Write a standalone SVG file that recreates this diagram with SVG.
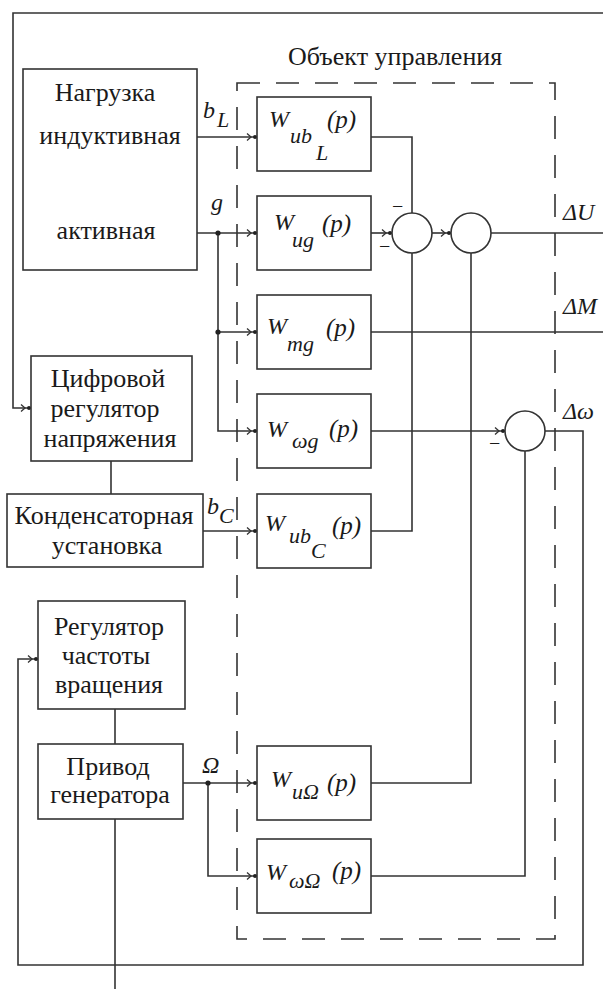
<svg xmlns="http://www.w3.org/2000/svg" width="603" height="989" viewBox="0 0 603 989">
<defs>
<style>
.ln{fill:none;stroke:#333;stroke-width:1.6}
.bx{fill:#fff;stroke:#333;stroke-width:1.6}
.dash{fill:none;stroke:#333;stroke-width:1.6;stroke-dasharray:23 16}
.t{font-family:'Liberation Serif','Times New Roman','DejaVu Serif',serif;font-size:26px;fill:#1a1a1a;text-anchor:middle}
.tt{font-family:'Liberation Serif','Times New Roman','DejaVu Serif',serif;font-size:26px;fill:#1a1a1a}
.w{font-family:'Liberation Serif','Times New Roman','DejaVu Serif',serif;font-style:italic;font-size:24px;fill:#1a1a1a}
.p{font-family:'Liberation Serif','Times New Roman','DejaVu Serif',serif;font-style:italic;font-size:25px;fill:#1a1a1a}
.s{font-family:'Liberation Serif','Times New Roman','DejaVu Serif',serif;font-style:italic;font-size:22px;fill:#1a1a1a}
.m{font-family:'Liberation Serif','Times New Roman','DejaVu Serif',serif;font-size:20px;fill:#1a1a1a}
.dot{fill:#222}
</style>
<marker id="arr" markerUnits="userSpaceOnUse" markerWidth="14" markerHeight="10" refX="12" refY="5" orient="auto" overflow="visible">
<path d="M2,1.5 L6,5 L2,8.5" fill="none" stroke="#333" stroke-width="1.3"/>
<circle cx="10" cy="5" r="2" fill="#222"/>
</marker>
</defs>
<rect width="603" height="989" fill="#fff"/>

<g id="plant">
<rect class="dash" x="237" y="83" width="318" height="856"/>
<text class="tt" x="288" y="65">Объект управления</text>
</g>

<g id="connectors">
<path class="ln" d="M603,13 H13 V408 H31" marker-end="url(#arr)"/>
<path class="ln" d="M197,137 H257" marker-end="url(#arr)"/>
<path class="ln" d="M197,233 H257" marker-end="url(#arr)"/>
<path class="ln" d="M218,233 V332 H257" marker-end="url(#arr)"/>
<path class="ln" d="M218,332 V431 H257" marker-end="url(#arr)"/>
<circle class="dot" cx="218" cy="233" r="2.6"/>
<circle class="dot" cx="218" cy="332" r="2.6"/>
<path class="ln" d="M203,531 H257" marker-end="url(#arr)"/>
<path class="ln" d="M111,461 V494"/>
<path class="ln" d="M115,709 V744"/>
<path class="ln" d="M183,783 H257" marker-end="url(#arr)"/>
<path class="ln" d="M208,783 V876 H257" marker-end="url(#arr)"/>
<circle class="dot" cx="208" cy="783" r="2.6"/>
<path class="ln" d="M371,137 H412 V213"/>
<path class="ln" d="M371,531 H412 V253"/>
<path class="ln" d="M371,233 H392" marker-end="url(#arr)"/>
<path class="ln" d="M432,233 H451" marker-end="url(#arr)"/>
<path class="ln" d="M491,233 H603"/>
<path class="ln" d="M371,783 H471 V253"/>
<path class="ln" d="M371,332 H603"/>
<path class="ln" d="M371,431 H505" marker-end="url(#arr)"/>
<path class="ln" d="M371,876 H525 V451"/>
<path class="ln" d="M545,431 H583 V965 H18 V659 H38" marker-end="url(#arr)"/>
<path class="ln" d="M115,819 V989"/>
<text class="w" x="203" y="118">b</text>
<text class="s" x="217" y="127">L</text>
<text class="w" x="211" y="210">g</text>
<text class="w" x="207" y="514">b</text>
<text class="s" x="219" y="523">C</text>
<text class="w" x="202" y="773">Ω</text>
<text class="w" x="563" y="220">ΔU</text>
<text class="w" x="563" y="314">ΔM</text>
<text class="w" x="563" y="419">Δω</text>
</g>

<g id="load">
<rect class="bx" x="23" y="69" width="174" height="201"/>
<text class="t" x="105" y="101">Нагрузка</text>
<text class="t" x="110" y="144">индуктивная</text>
<text class="t" x="106" y="239">активная</text>
</g>

<g id="digital-regulator">
<rect class="bx" x="31" y="356" width="161" height="105"/>
<text class="t" x="108" y="387">Цифровой</text>
<text class="t" x="105" y="417">регулятор</text>
<text class="t" x="110" y="447">напряжения</text>
</g>

<g id="capacitor">
<rect class="bx" x="7" y="494" width="196" height="73"/>
<text class="t" x="104" y="524">Конденсаторная</text>
<text class="t" x="107" y="554">установка</text>
</g>

<g id="speed-regulator">
<rect class="bx" x="38" y="601" width="147" height="108"/>
<text class="t" x="109" y="635">Регулятор</text>
<text class="t" x="106" y="664">частоты</text>
<text class="t" x="109" y="693">вращения</text>
</g>

<g id="drive">
<rect class="bx" x="38" y="744" width="145" height="75"/>
<text class="t" x="108" y="775">Привод</text>
<text class="t" x="110" y="803">генератора</text>
</g>

<g id="W_ubL">
<rect class="bx" x="257" y="97" width="114" height="74"/>
<text class="w" x="269" y="127">W</text>
<text class="s" x="290" y="143">ub</text>
<text class="s" x="316" y="160">L</text>
<text class="p" x="327" y="128">(p)</text>
</g>

<g id="W_ug">
<rect class="bx" x="257" y="196" width="114" height="74"/>
<text class="w" x="274" y="230">W</text>
<text class="s" x="292" y="247">ug</text>
<text class="p" x="322" y="232">(p)</text>
</g>

<g id="W_mg">
<rect class="bx" x="257" y="295" width="114" height="74"/>
<text class="w" x="267" y="334">W</text>
<text class="s" x="287" y="351">mg</text>
<text class="p" x="326" y="336">(p)</text>
</g>

<g id="W_wg">
<rect class="bx" x="257" y="394" width="114" height="74"/>
<text class="w" x="267" y="437">W</text>
<text class="s" x="292" y="448">ωg</text>
<text class="p" x="329" y="437">(p)</text>
</g>

<g id="W_ubC">
<rect class="bx" x="257" y="494" width="114" height="74"/>
<text class="w" x="265" y="531">W</text>
<text class="s" x="289" y="543">ub</text>
<text class="s" x="311" y="558">C</text>
<text class="p" x="332" y="534">(p)</text>
</g>

<g id="W_uOmega">
<rect class="bx" x="257" y="746" width="114" height="74"/>
<text class="w" x="271" y="787">W</text>
<text class="s" x="292" y="799">uΩ</text>
<text class="p" x="327" y="791">(p)</text>
</g>

<g id="W_wOmega">
<rect class="bx" x="257" y="839" width="114" height="74"/>
<text class="w" x="266" y="880">W</text>
<text class="s" x="289" y="888">ωΩ</text>
<text class="p" x="332" y="879">(p)</text>
</g>

<g id="sum1">
<circle class="bx" cx="412" cy="233" r="20"/>
<text class="m" x="392" y="213">−</text>
<text class="m" x="379" y="253">−</text>
</g>

<g id="sum2">
<circle class="bx" cx="471" cy="233" r="20"/>
</g>

<g id="sum3">
<circle class="bx" cx="525" cy="431" r="20"/>
<text class="m" x="489" y="450">−</text>
</g>
</svg>
